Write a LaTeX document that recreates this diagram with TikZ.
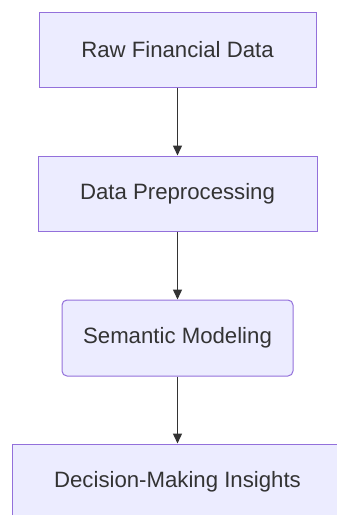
\documentclass[tikz,border=0pt]{standalone}
\usepackage{fontspec}
\setmainfont{Liberation Sans}
\usepackage{xcolor}
\usetikzlibrary{arrows.meta}

\definecolor{boxfill}{HTML}{ECECFF}
\definecolor{boxline}{HTML}{9370DB}
\definecolor{textgray}{HTML}{333333}

\tikzset{
  stage/.style={draw=boxline, fill=boxfill, line width=1pt, inner sep=0pt,
    minimum height=75pt, text=textgray, font=\fontsize{22.2}{27}\selectfont},
  flow/.style={draw=textgray, line width=1.4pt, -{Triangle[width=9pt,length=10pt]}}
}

\begin{document}
\begin{tikzpicture}[x=1pt,y=1pt]
\useasboundingbox (0,0) rectangle (337,-515);
\node[stage, minimum width=277pt] (raw) at (177.5,-49.5) {Raw Financial Data};
\node[stage, minimum width=279pt] (prep) at (177.5,-193.5) {Data Preprocessing};
\node[stage, minimum width=231pt, minimum height=76pt, rounded corners=5pt] (model) at (177.5,-338) {Semantic Modeling};
\node[stage, minimum width=331pt] (insight) at (177.5,-481.5) {Decision-Making Insights};
\draw[flow] (raw) -- (prep);
\draw[flow] (prep) -- (model);
\draw[flow] (model) -- (insight);
\end{tikzpicture}
\end{document}
